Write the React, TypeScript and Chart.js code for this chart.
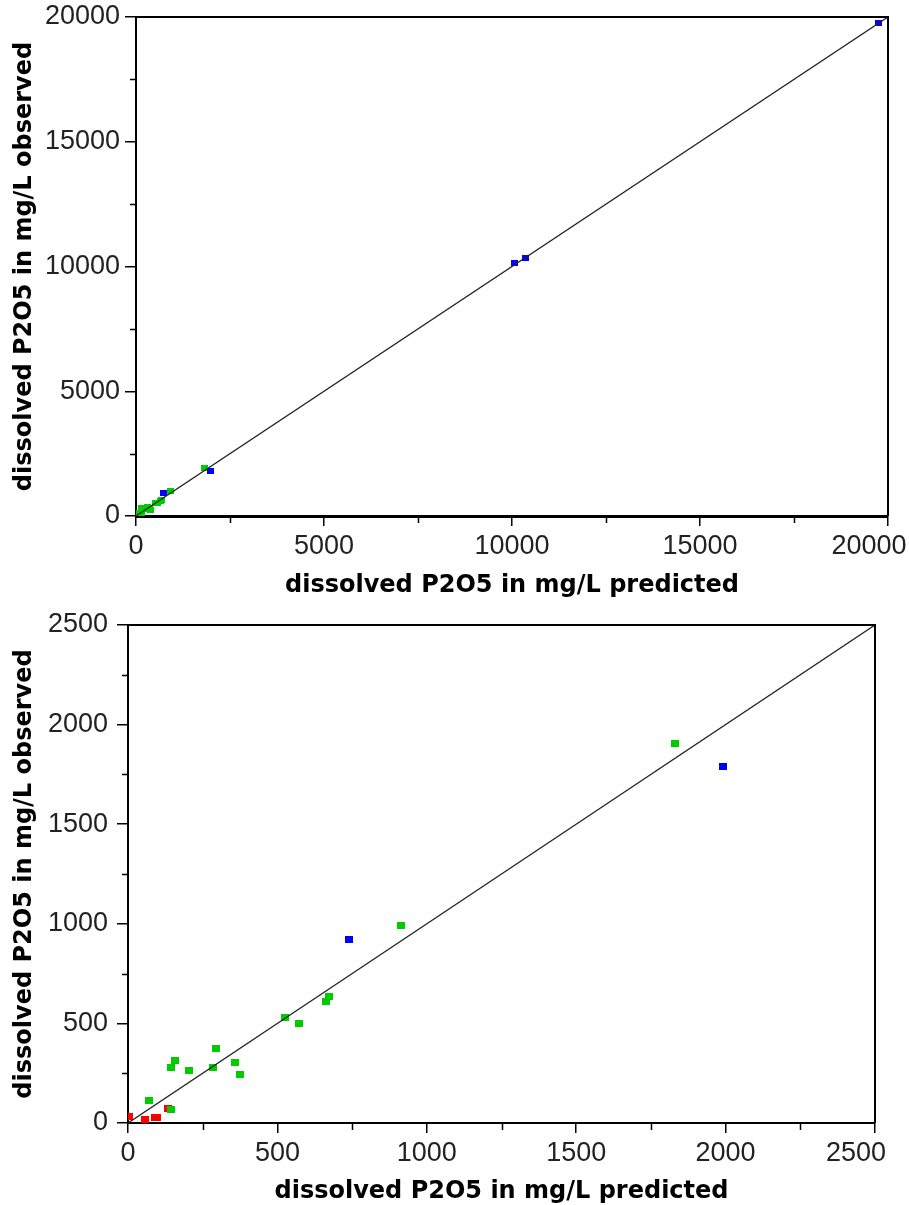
import React, { useEffect, useRef } from 'react';
import { Chart, registerables } from 'chart.js';

Chart.register(...registerables);

// ---- data (predicted = x, observed = y) ----
const redPredicted = [5, 57, 90, 97, 133];
const redObserved = [35, 18, 27, 29, 75];
const greenPredicted = [70, 145, 145, 157, 203, 285, 295, 358, 375, 525, 573, 662, 673, 915, 1830];
const greenObserved = [112, 67, 278, 313, 262, 277, 375, 305, 245, 530, 502, 610, 635, 992, 1905];
const bluePredicted = [740, 1990, 10065, 10360, 19740];
const blueObserved = [922, 1792, 10130, 10340, 19750];

const topTicks = [0, 5000, 10000, 15000, 20000];
const bottomTicks = [0, 500, 1000, 1500, 2000, 2500];
const topIdentity = [0, 20000];
const bottomIdentity = [0, 2500];

const xTitle = 'dissolved P2O5 in mg/L predicted';
const yTitle = 'dissolved P2O5 in mg/L observed';

const W = 909;

function pts(xs: number[], ys: number[]) {
  return xs.map((x, i) => ({ x, y: ys[i] }));
}

function marker(color: string, w: number, h: number) {
  const c = document.createElement('canvas');
  c.width = w;
  c.height = h;
  const g = c.getContext('2d')!;
  g.fillStyle = color;
  g.fillRect(0, 0, w, h);
  return c;
}

type Params = {
  height: number;
  ticks: number[];
  identity: number[];
  area: { left: number; right: number; top: number; bottom: number };
  yPad: number;
  xBorder: number;
  xTitlePad: number;
  yTitlePad: number;
  mw: number;
  mh: number;
};

const framePlugin = {
  id: 'frame',
  afterDraw(chart: any) {
    const { ctx, chartArea: a } = chart;
    ctx.save();
    ctx.strokeStyle = '#000';
    ctx.lineWidth = 2;
    ctx.beginPath();
    ctx.moveTo(a.left, a.top);
    ctx.lineTo(a.right, a.top);
    ctx.lineTo(a.right, a.bottom);
    ctx.stroke();
    // minor ticks between labelled ticks
    const xs = chart.scales.x;
    const ys = chart.scales.y;
    ctx.lineWidth = 1.5;
    ctx.beginPath();
    for (let i = 0; i < xs.ticks.length - 1; i++) {
      const v = (xs.ticks[i].value + xs.ticks[i + 1].value) / 2;
      const px = Math.round(xs.getPixelForValue(v)) + 0.5;
      ctx.moveTo(px, a.bottom);
      ctx.lineTo(px, a.bottom + 7);
    }
    for (let i = 0; i < ys.ticks.length - 1; i++) {
      const v = (ys.ticks[i].value + ys.ticks[i + 1].value) / 2;
      const py = Math.round(ys.getPixelForValue(v)) + 0.5;
      ctx.moveTo(a.left, py);
      ctx.lineTo(a.left - 6, py);
    }
    ctx.stroke();
    ctx.restore();
  },
  beforeDraw(chart: any) {
    const s = chart.scales.x;
    const items = s.getLabelItems();
    const last = items[items.length - 1];
    if (last && !last._shifted) {
      last.options.translation[0] -= 19;
      last._shifted = true;
    }
  },
};

function makeConfig(p: Params): any {
  const tickFont = { family: "'Liberation Sans', Arial, sans-serif", size: 27 };
  const titleFont = { family: "'DejaVu Sans', sans-serif", size: 24, weight: 'bold' as const };
  const max = p.ticks[p.ticks.length - 1];
  return {
    type: 'scatter',
    data: {
      datasets: [
        {
          type: 'line',
          data: pts(p.identity, p.identity),
          borderColor: '#222',
          borderWidth: 1.3,
          pointRadius: 0,
          fill: false,
        },
        {
          data: pts(bluePredicted, blueObserved),
          pointStyle: marker('#0000ff', p.mw, p.mh),
          pointRadius: 4,
        },
        {
          data: pts(greenPredicted, greenObserved),
          pointStyle: marker('#00cc00', p.mw, p.mh),
          pointRadius: 4,
        },
        {
          data: pts(redPredicted, redObserved),
          pointStyle: marker('#ff0000', p.mw, p.mh),
          pointRadius: 4,
        },
      ],
    },
    options: {
      responsive: false,
      animation: false,
      events: [],
      layout: {
        padding: { top: p.area.top, right: W - p.area.right, left: 0, bottom: 0 },
      },
      plugins: { legend: { display: false }, tooltip: { enabled: false } },
      scales: {
        x: {
          type: 'linear',
          position: 'bottom',
          min: 0,
          max,
          afterBuildTicks: (s: any) => {
            s.ticks = p.ticks.map((v) => ({ value: v }));
          },
          ticks: {
            font: tickFont,
            color: '#222',
            padding: 4,
            maxRotation: 0,
            autoSkip: false,
            callback: (v: any) => String(v),
          },
          grid: { drawOnChartArea: false, drawTicks: true, tickLength: 10, color: '#000', lineWidth: 1.5 },
          border: { display: true, color: '#000', width: p.xBorder },
          title: {
            display: true,
            text: xTitle,
            font: titleFont,
            color: '#000',
            padding: { top: 0, bottom: p.xTitlePad },
          },
          afterFit: (s: any) => {
            s.height = p.height - p.area.bottom;
            s.paddingLeft = 0;
            s.paddingRight = 0;
          },
        },
        y: {
          type: 'linear',
          position: 'left',
          min: 0,
          max,
          afterBuildTicks: (s: any) => {
            s.ticks = p.ticks.map((v) => ({ value: v }));
          },
          ticks: {
            font: tickFont,
            color: '#222',
            padding: p.yPad,
            autoSkip: false,
            callback: (v: any) => String(v),
          },
          grid: { drawOnChartArea: false, drawTicks: true, tickLength: 11, color: '#000', lineWidth: 1.5 },
          border: { display: true, color: '#000', width: 2 },
          title: {
            display: true,
            text: yTitle,
            font: titleFont,
            color: '#000',
            padding: { top: p.yTitlePad, bottom: 0 },
          },
          afterFit: (s: any) => {
            s.width = p.area.left;
            s.paddingTop = 0;
            s.paddingBottom = 0;
          },
        },
      },
    },
    plugins: [framePlugin],
  };
}

function ChartCanvas({ p, top }: { p: Params; top: number }) {
  const ref = useRef<HTMLCanvasElement | null>(null);
  useEffect(() => {
    if (!ref.current) return;
    const chart = new Chart(ref.current, makeConfig(p));
    return () => chart.destroy();
  }, []);
  return (
    <canvas
      ref={ref}
      width={W}
      height={p.height}
      style={{ position: 'absolute', left: 0, top, width: W, height: p.height }}
    />
  );
}

const topParams: Params = {
  height: 605,
  ticks: topTicks,
  identity: topIdentity,
  area: { left: 136, right: 888, top: 17, bottom: 516 },
  yPad: 5,
  xBorder: 3,
  xTitlePad: 5,
  yTitlePad: 10,
  mw: 7,
  mh: 6,
};

const bottomParams: Params = {
  height: 600,
  ticks: bottomTicks,
  identity: bottomIdentity,
  area: { left: 128, right: 875, top: 20, bottom: 518 },
  yPad: 9,
  xBorder: 2,
  xTitlePad: -1,
  yTitlePad: 10,
  mw: 8,
  mh: 7,
};

export default function App() {
  return (
    <div style={{ position: 'absolute', left: 0, top: 0, width: W, height: 1205, background: '#fff' }}>
      <ChartCanvas p={topParams} top={0} />
      <ChartCanvas p={bottomParams} top={605} />
    </div>
  );
}
